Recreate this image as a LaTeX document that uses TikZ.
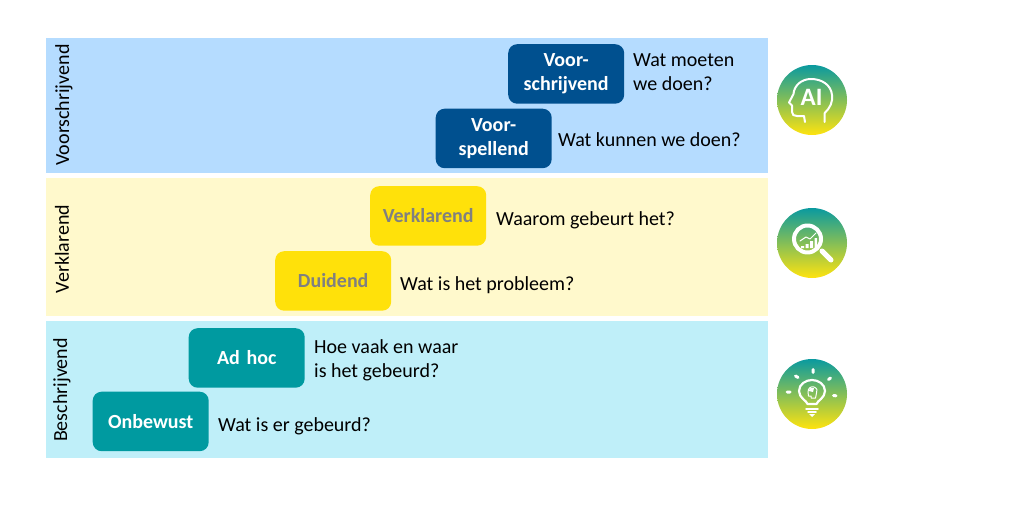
\documentclass[tikz,border=0pt]{standalone}
\usepackage{fontspec}
\setmainfont{Carlito}
\usepackage{tikz}
\usetikzlibrary{shapes.geometric, backgrounds, calc}
\definecolor{bandblue}{HTML}{B5DCFF}
\definecolor{bandyellow}{HTML}{FFF9CC}
\definecolor{bandcyan}{HTML}{BFEFF9}
\definecolor{boxblue}{HTML}{00508F}
\definecolor{boxyellow}{HTML}{FFE10A}
\definecolor{boxteal}{HTML}{009AA0}
\definecolor{icontop}{HTML}{0A9A9F}
\definecolor{iconmid}{HTML}{7DBD5C}
\definecolor{iconbottom}{HTML}{FFE30F}
\tikzstyle{band} = [rectangle, inner sep=0pt, minimum width=722pt, anchor=north west]
\tikzstyle{block} = [rectangle, rounded corners=9pt, inner sep=0pt, minimum width=116pt, minimum height=59.5pt, text width=116pt, align=center, font=\fontsize{20}{24}\selectfont\bfseries, anchor=north west]
\tikzstyle{question} = [anchor=west, inner sep=0pt, align=left, font=\fontsize{20}{24}\selectfont]
\tikzstyle{side} = [rotate=90, inner sep=0pt, font=\fontsize{20}{24}\selectfont]
\tikzstyle{icon} = [circle, inner sep=0pt, minimum size=70pt, top color=icontop, middle color=iconmid, bottom color=iconbottom]
\tikzstyle{glyph} = [draw=white, line cap=round, line join=round]

\begin{document}
\begin{tikzpicture}[x=1pt,y=-1pt]
\useasboundingbox (0,0) rectangle (1024,506);

\node[band, fill=bandblue, minimum height=135pt] (bandtop) at (46,38) {};
\node[band, fill=bandyellow, minimum height=138pt] (bandmid) at (46,178) {};
\node[band, fill=bandcyan, minimum height=137pt] (bandlow) at (46,321) {};

\node[side] (voorschrijvend) at (64,105) {Voorschrijvend};
\node[side] (verklarend) at (62,249) {Verklarend};
\node[side] (beschrijvend) at (62,390) {Beschrijvend};

\node[block, fill=boxblue, text=white] (presc) at (508,44) {Voor-\\schrijvend};
\node[block, fill=boxblue, text=white] (pred) at (435.5,108.5) {Voor-\\spellend};
\node[block, fill=boxyellow, text=gray] (diag) at (370,186) {Verklarend};
\node[block, fill=boxyellow, text=gray] (duid) at (275,251) {Duidend};
\node[block, fill=boxteal, text=white] (adhoc) at (188.5,328) {Ad hoc};
\node[block, fill=boxteal, text=white] (onbew) at (92.5,391.5) {Onbewust};

\node[question] (qpresc) at (633,72) {Wat moeten\\we doen?};
\node[question] (qpred) at (558,140) {Wat kunnen we doen?};
\node[question] (qdiag) at (496,220.5) {Waarom gebeurt het?};
\node[question] (qduid) at (400,285) {Wat is het probleem?};
\node[question] (qadhoc) at (314,360) {Hoe vaak en waar\\is het gebeurd?};
\node[question] (qonbew) at (218,426) {Wat is er gebeurd?};

\node[icon] (iconai) at (812,100) {};
\node[icon] (iconzoom) at (812,243) {};
\node[icon] (iconbulb) at (812,394) {};

% head
\begin{scope}[shift={(iconai.center)}]
\draw[glyph, line width=2pt] (12.7,22) -- (12.7,13) .. controls (18,8) and (21,2) .. (20,-5)
  .. controls (19,-15) and (10,-21) .. (-1,-21) .. controls (-11,-21) and (-18,-14) .. (-18.5,-6)
  -- (-23,2.5) -- (-20,5.5) -- (-20,12) .. controls (-20,15) and (-18,16) .. (-15,16)
  -- (-8,16) -- (-7,22);
\node[text=white, inner sep=0pt, font=\fontsize{25}{25}\selectfont\bfseries] (textai) at (-0.5,-2.5) {AI};
\end{scope}

% magnifier
\begin{scope}[shift={(iconzoom.center)}]
\draw[glyph, line width=4pt] (-4.5,-4) circle (13.5);
\draw[glyph, line width=5pt] (10,8) -- (19,17);
\draw[glyph, line width=1pt] (-12,-2) -- (-6,-6) -- (-2,-4) -- (4,-10);
\fill[white] (-11,3) rectangle (-8,5) (-6.5,1) rectangle (-3.5,5) (-2,-2) rectangle (1,5) (2.5,-5) rectangle (5,5);
\end{scope}

% light bulb
\begin{scope}[shift={(iconbulb.center)}]
\draw[glyph, line width=2.2pt] (-4.5,10) .. controls (-5,7) and (-13,4) .. (-13,-3)
  .. controls (-13,-10) and (-6,-14) .. (0,-14) .. controls (6,-14) and (13,-10) .. (13,-3)
  .. controls (13,4) and (5,7) .. (4.5,10) -- cycle;
\draw[glyph, line width=1.5pt] (-6,15) -- (6,15) (-4,18) -- (4,18);
\fill[white] (-3,20) -- (3,20) -- (0,23) -- cycle;
\draw[glyph, line width=1pt] (-4,-2) .. controls (-4,-6) and (-1,-8) .. (2,-7) .. controls (5,-6) and (6,-3) .. (4.5,-1) -- (3.5,4) -- (-1,4) -- (-1,2) -- (-3.5,2) -- cycle;
\fill[white] (-3,-3) .. controls (-3,-6) and (0,-7) .. (2,-6) -- (1,-2) -- cycle;
\draw[glyph, line width=3pt] (1,-24.5) -- (1,-21.5) (-16.5,-18) -- (-14,-16.5) (-25,-2) -- (-22,-2) (16.5,-14.5) -- (18.5,-16) (21.5,1.5) -- (24,1.8);
\end{scope}
\end{tikzpicture}
\end{document}
